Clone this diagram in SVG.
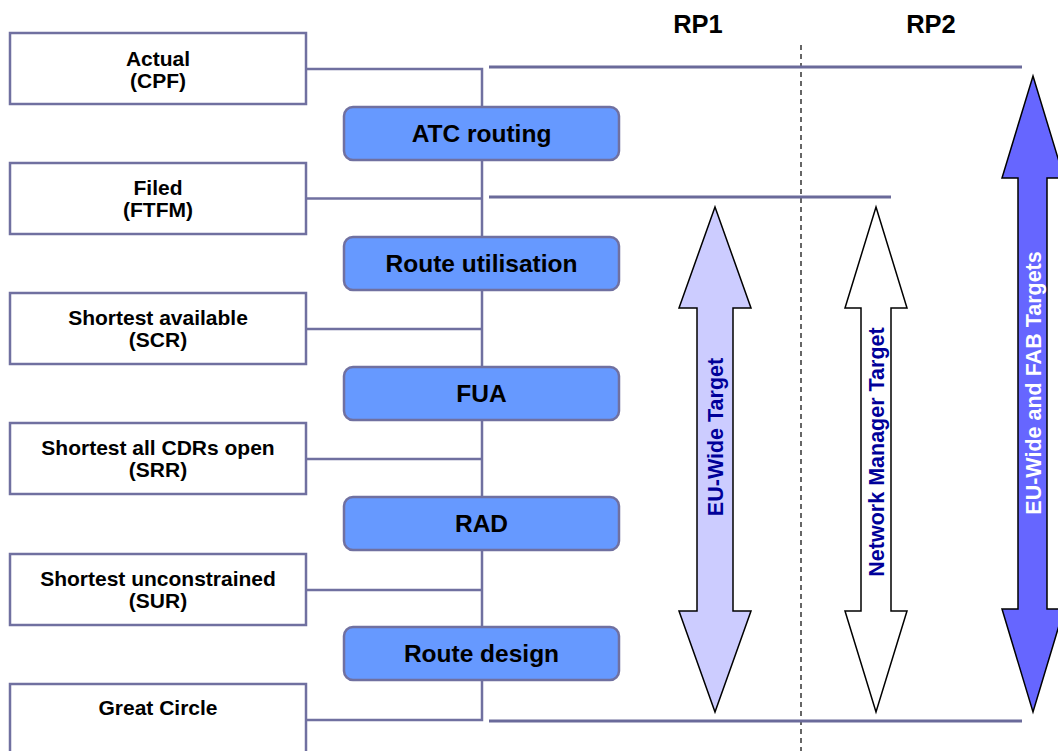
<svg xmlns="http://www.w3.org/2000/svg" width="1058" height="751" viewBox="0 0 1058 751">
  <style>
    .lbl { font-family: "Liberation Sans", Arial, sans-serif; font-weight: bold; text-anchor: middle; }
    .src rect { fill: #ffffff; stroke: #7070a0; stroke-width: 2.5; }
    .src text { font-size: 21px; fill: #000000; }
    .step rect { fill: #6699ff; stroke: #7070a0; stroke-width: 2.5; }
    .step text { font-size: 24.5px; fill: #000000; }
    .conn { fill: none; stroke: #7070a0; stroke-width: 2.5; }
    .ref { fill: none; stroke: #6a6a9a; stroke-width: 3; }
    .arrow polygon { stroke: #000000; stroke-width: 1.5; stroke-linejoin: miter; }
    .arrow text { font-size: 21.5px; }
    .period { font-size: 25.5px; fill: #000000; }
  </style>

  <!-- reporting period split -->
  <line x1="801" y1="45" x2="801" y2="751" stroke="#000000" stroke-width="1.2" stroke-dasharray="5,4"/>
  <text class="lbl period" x="698" y="33">RP1</text>
  <text class="lbl period" x="931" y="33">RP2</text>

  <!-- connectors: tree joining the route references -->
  <g id="connectors">
    <path class="conn" d="M306,69 H482 V720 H306"/>
    <path class="conn" d="M306,198.5 H482"/>
    <path class="conn" d="M306,329 H482"/>
    <path class="conn" d="M306,459 H482"/>
    <path class="conn" d="M306,590 H482"/>
    <line class="ref" x1="489" y1="67" x2="1022" y2="67"/>
    <line class="ref" x1="489" y1="197" x2="891" y2="197"/>
    <line class="ref" x1="489" y1="721" x2="1022" y2="721"/>
  </g>

  <!-- route reference boxes -->
  <g id="actual" class="src lbl">
    <rect x="10" y="33" width="296" height="71"/>
    <text x="158" y="66">Actual</text>
    <text x="158" y="88">(CPF)</text>
  </g>
  <g id="filed" class="src lbl">
    <rect x="10" y="163" width="296" height="71"/>
    <text x="158" y="195">Filed</text>
    <text x="158" y="217">(FTFM)</text>
  </g>
  <g id="shortest-available" class="src lbl">
    <rect x="10" y="293" width="296" height="71"/>
    <text x="158" y="325">Shortest available</text>
    <text x="158" y="347">(SCR)</text>
  </g>
  <g id="shortest-cdrs-open" class="src lbl">
    <rect x="10" y="423" width="296" height="71"/>
    <text x="158" y="455">Shortest all CDRs open</text>
    <text x="158" y="477">(SRR)</text>
  </g>
  <g id="shortest-unconstrained" class="src lbl">
    <rect x="10" y="554" width="296" height="71"/>
    <text x="158" y="586">Shortest unconstrained</text>
    <text x="158" y="608">(SUR)</text>
  </g>
  <g id="great-circle" class="src lbl">
    <rect x="10" y="684" width="296" height="80"/>
    <text x="158" y="715">Great Circle</text>
  </g>

  <!-- inefficiency drivers -->
  <g id="atc-routing" class="step lbl">
    <rect x="344" y="107" width="275" height="53" rx="9"/>
    <text x="481.5" y="142">ATC routing</text>
  </g>
  <g id="route-utilisation" class="step lbl">
    <rect x="344" y="237" width="275" height="53" rx="9"/>
    <text x="481.5" y="272">Route utilisation</text>
  </g>
  <g id="fua" class="step lbl">
    <rect x="344" y="367" width="275" height="53" rx="9"/>
    <text x="481.5" y="402">FUA</text>
  </g>
  <g id="rad" class="step lbl">
    <rect x="344" y="497" width="275" height="53" rx="9"/>
    <text x="481.5" y="532">RAD</text>
  </g>
  <g id="route-design" class="step lbl">
    <rect x="344" y="627" width="275" height="53" rx="9"/>
    <text x="481.5" y="662">Route design</text>
  </g>

  <!-- target ranges -->
  <g id="eu-wide-target" class="arrow lbl">
    <polygon fill="#ccccff" points="715,207 751,308 733,308 733,611 751,611 715,712 679,611 697,611 697,308 679,308"/>
    <text transform="translate(723,437) rotate(-90)" fill="#000099">EU-Wide Target</text>
  </g>
  <g id="network-manager-target" class="arrow lbl">
    <polygon fill="#ffffff" points="876,207 907,308 891,308 891,611 907,611 876,712 845,611 861,611 861,308 845,308"/>
    <text transform="translate(884,452) rotate(-90)" fill="#000099">Network Manager Target</text>
  </g>
  <g id="eu-wide-fab-targets" class="arrow lbl">
    <polygon fill="#6666ff" points="1033,76 1064,178 1047,178 1047,609 1064,609 1033,712 1002,609 1018,609 1018,178 1002,178"/>
    <text transform="translate(1041,383) rotate(-90)" fill="#ffffff">EU-Wide and FAB Targets</text>
  </g>
</svg>
